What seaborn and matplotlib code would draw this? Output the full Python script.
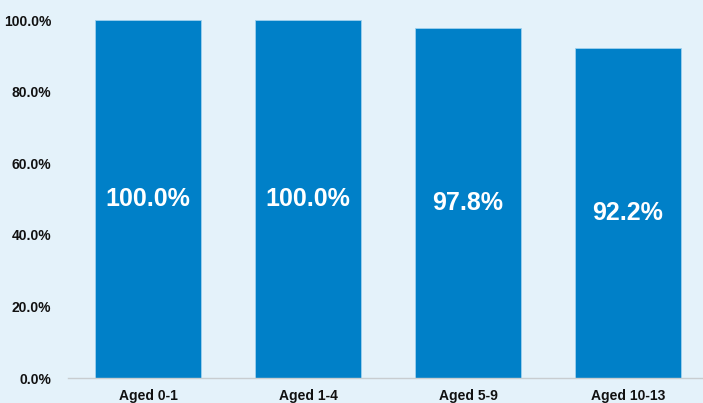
import pandas as pd
import matplotlib.pyplot as plt
import seaborn as sns
from matplotlib.ticker import FuncFormatter

categories = ['Aged 0-1', 'Aged 1-4', 'Aged 5-9', 'Aged 10-13']
values = [100.0, 100.0, 97.8, 92.2]

BG = '#E4F2FA'
BAR = '#0080C8'

sns.set_style('white')
plt.rcParams['font.family'] = ['Liberation Sans', 'DejaVu Sans']

df = pd.DataFrame({'group': categories, 'pct': values})

fig = plt.figure(figsize=(7.03, 4.03), dpi=100, facecolor=BG)
ax = fig.add_axes([0.0967, 0.062, 0.9104, 0.888])
ax.set_facecolor(BG)

sns.barplot(data=df, x='group', y='pct', color=BAR, saturation=1, width=0.66,
            edgecolor='#9FD0EE', linewidth=0.6, ax=ax)

for i, v in enumerate(values):
    ax.text(i, v / 2, f'{v:.1f}%', ha='center', va='center', color='white',
            fontsize=18, fontweight='bold')

ax.set_ylim(0, 100)
ax.set_xlim(-0.5, 3.5)
ax.set_yticks([0, 20, 40, 60, 80, 100])
ax.yaxis.set_major_formatter(FuncFormatter(lambda y, _: f'{y:.1f}%'))
ax.set_xlabel('')
ax.set_ylabel('')
for lbl in ax.get_xticklabels() + ax.get_yticklabels():
    lbl.set_fontweight('bold')
    lbl.set_fontsize(10)
    lbl.set_color('#111111')
ax.tick_params(axis='both', length=0, pad=8)
ax.tick_params(axis='y', pad=12)

for side in ['top', 'right', 'left']:
    ax.spines[side].set_visible(False)
ax.spines['bottom'].set_color('#C8CDD0')
ax.spines['bottom'].set_linewidth(1)

plt.savefig('out.png', dpi=100, facecolor=BG)
